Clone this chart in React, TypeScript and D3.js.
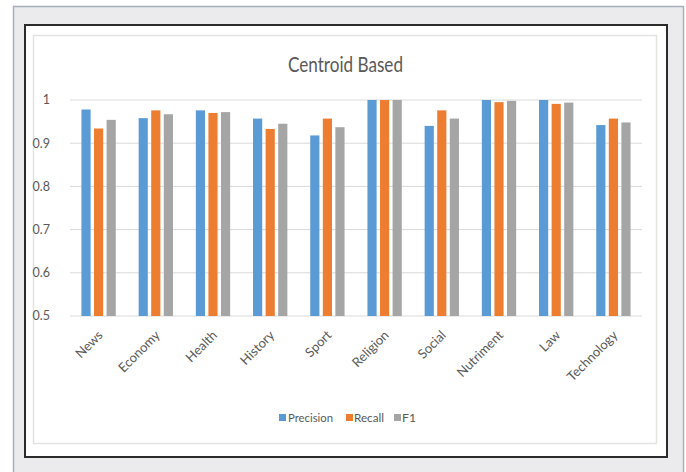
import React from "react";
import * as d3 from "d3";

const categories = ["News", "Economy", "Health", "History", "Sport", "Religion", "Social", "Nutriment", "Law", "Technology"];
const precision = [0.978, 0.958, 0.976, 0.957, 0.918, 1.0, 0.94, 1.0, 1.0, 0.942];
const recall = [0.934, 0.976, 0.97, 0.933, 0.957, 1.0, 0.976, 0.995, 0.991, 0.957];
const f1 = [0.954, 0.967, 0.972, 0.945, 0.937, 1.0, 0.957, 0.998, 0.994, 0.948];
const seriesNames = ["Precision", "Recall", "F1"];
const yTicks = [0.5, 0.6, 0.7, 0.8, 0.9, 1];

const COLORS = ["#5B9BD5", "#ED7D31", "#A5A5A5"];
const FONT = "Lato, 'Open Sans', sans-serif";
const TEXT = "#595959";

const W = 686;
const H = 472;
const plot = { left: 70, right: 642, top: 100, bottom: 316 };

export default function App() {
  const series = [precision, recall, f1];
  const x = d3.scaleBand<string>().domain(categories).range([plot.left, plot.right]).paddingInner(0.4).paddingOuter(0.2);
  const xs = d3.scaleBand<string>().domain(seriesNames).range([0, x.bandwidth()]).paddingInner(0.27);
  const y = d3.scaleLinear().domain([0.5, 1]).range([plot.bottom, plot.top]);

  const legendItems = [
    { name: "Precision", x: 279, tx: 288, w: 45 },
    { name: "Recall", x: 346, tx: 354, w: 30 },
    { name: "F1", x: 394, tx: 402, w: 14 },
  ];

  return (
    <svg width={W} height={H} style={{ position: "absolute", left: 0, top: 0 }} fontFamily={FONT}>
      <rect x={0} y={0} width={W} height={H} fill="#ffffff" />
      {/* outer window panel */}
      <rect x={13.5} y={6.5} width={670} height={480} fill="#ebebed" stroke="#a6b0bc" strokeWidth={1.5} />
      {/* framed chart */}
      <rect x={25} y={25} width={642} height={432} fill="#ffffff" stroke="#2b2b2b" strokeWidth={2} />
      <rect x={33.5} y={35.5} width={623} height={408} fill="#ffffff" stroke="#e3e3e3" strokeWidth={1.5} />

      <text x={345.5} y={72} textAnchor="middle" fontSize={21} fill={TEXT} textLength={115} lengthAdjust="spacingAndGlyphs">
        Centroid Based
      </text>

      {/* gridlines and y labels */}
      {yTicks.map((t) => (
        <g key={t}>
          <line x1={plot.left} x2={plot.right} y1={y(t)} y2={y(t)} stroke="#d9d9d9" strokeWidth={1} />
          <text x={50} y={y(t)} dy="0.35em" textAnchor="end" fontSize={12.5} fill={TEXT}>
            {t === 1 ? "1" : t.toFixed(1)}
          </text>
        </g>
      ))}

      {/* bars */}
      {categories.map((c, i) => (
        <g key={c} transform={`translate(${x(c)},0)`}>
          {series.map((vals, s) => (
            <rect
              key={s}
              x={xs(seriesNames[s])}
              y={y(vals[i])}
              width={xs.bandwidth()}
              height={y(0.5) - y(vals[i])}
              fill={COLORS[s]}
            />
          ))}
        </g>
      ))}

      {/* category labels */}
      {categories.map((c) => {
        const cx = (x(c) as number) + x.bandwidth() / 2 + 5;
        return (
          <text
            key={c}
            transform={`translate(${cx},${plot.bottom + 20}) rotate(-45)`}
            textAnchor="end"
            fontSize={13}
            fill={TEXT}
          >
            {c}
          </text>
        );
      })}

      {/* legend */}
      {legendItems.map((d, i) => (
        <g key={d.name}>
          <rect x={d.x} y={414} width={7} height={7} fill={COLORS[i]} />
          <text x={d.tx} y={417.5} dy="0.35em" fontSize={12} fill={TEXT} textLength={d.w} lengthAdjust="spacingAndGlyphs">
            {d.name}
          </text>
        </g>
      ))}
    </svg>
  );
}
